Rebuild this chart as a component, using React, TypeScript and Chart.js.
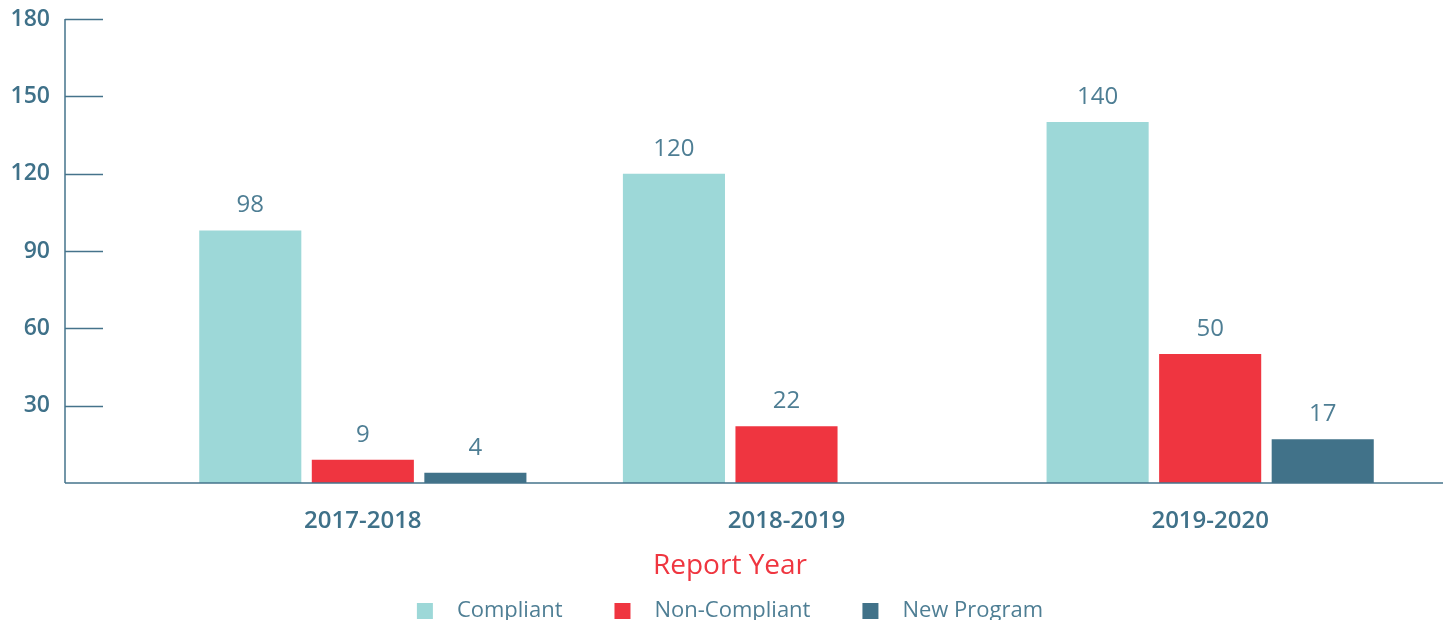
import React, { useEffect, useRef } from "react";
import { Chart, registerables } from "chart.js";

Chart.register(...registerables);

const categories = ["2017-2018", "2018-2019", "2019-2020"];
const seriesNames = ["Compliant", "Non-Compliant", "New Program"];
const compliant = [98, 120, 140];
const nonCompliant = [9, 22, 50];
const newProgram: (number | null)[] = [4, null, 17];
const seriesColors = ["#9dd8d8", "#ef3540", "#417289"];
const yTickValues = [0, 30, 60, 90, 120, 150, 180];
const xAxisTitle = "Report Year";

const AXIS_COLOR = "#45738b";
const TEXT_COLOR = "#3f7189";
const LABEL_COLOR = "#4e7e94";
const FONT = "'Open Sans', sans-serif";

const decorPlugin = {
  id: "decor",
  afterDatasetsDraw(chart: any) {
    const ctx = chart.ctx;
    const y = chart.scales.y;
    const axisX = 65;
    ctx.save();
    ctx.strokeStyle = AXIS_COLOR;
    ctx.lineWidth = 1.5;
    // y axis line
    ctx.beginPath();
    ctx.moveTo(axisX, y.getPixelForValue(180));
    ctx.lineTo(axisX, y.getPixelForValue(0));
    ctx.stroke();
    // x axis line
    ctx.beginPath();
    ctx.moveTo(axisX, y.getPixelForValue(0));
    ctx.lineTo(chart.width, y.getPixelForValue(0));
    ctx.stroke();
    // tick marks to the right of the axis
    yTickValues.forEach((v) => {
      if (v === 0) return;
      const py = Math.round(y.getPixelForValue(v)) + 0.5;
      ctx.beginPath();
      ctx.moveTo(axisX, py);
      ctx.lineTo(axisX + 38, py);
      ctx.stroke();
    });
    // value labels
    ctx.fillStyle = LABEL_COLOR;
    ctx.font = `400 24px ${FONT}`;
    ctx.textAlign = "center";
    ctx.textBaseline = "middle";
    chart.data.datasets.forEach((ds: any, i: number) => {
      const meta = chart.getDatasetMeta(i);
      meta.data.forEach((el: any, j: number) => {
        const v = ds.data[j];
        if (v === null || v === undefined) return;
        ctx.fillText(String(v), el.x, el.y - 25);
      });
    });
    // axis title
    ctx.fillStyle = "#ef3640";
    ctx.font = `400 28px ${FONT}`;
    ctx.fillText(xAxisTitle, 730, 566);
    // legend
    ctx.font = `400 22px ${FONT}`;
    const box = 16;
    const boxGap = 24;
    const itemGap = 52;
    const widths = chart.data.datasets.map((ds: any) => ctx.measureText(ds.label).width);
    const total =
      widths.reduce((a: number, b: number) => a + b, 0) +
      chart.data.datasets.length * (box + boxGap) +
      (chart.data.datasets.length - 1) * itemGap;
    let x = 730 - total / 2;
    const ly = 611;
    ctx.textAlign = "left";
    chart.data.datasets.forEach((ds: any, i: number) => {
      ctx.fillStyle = ds.backgroundColor;
      ctx.fillRect(x, ly - box / 2, box, box);
      x += box + boxGap;
      ctx.fillStyle = LABEL_COLOR;
      ctx.fillText(ds.label, x, ly);
      x += widths[i] + itemGap;
    });
    ctx.restore();
  },
};

export default function App() {
  const ref = useRef<HTMLCanvasElement | null>(null);
  useEffect(() => {
    document.body.style.margin = "0";
    document.body.style.overflow = "hidden";
    const canvas = ref.current;
    if (!canvas) return;
    const chart = new Chart(canvas, {
      type: "bar",
      data: {
        labels: categories,
        datasets: [
          { label: seriesNames[0], data: compliant, backgroundColor: seriesColors[0] },
          { label: seriesNames[1], data: nonCompliant, backgroundColor: seriesColors[1] },
          { label: seriesNames[2], data: newProgram, backgroundColor: seriesColors[2] },
        ],
      },
      options: {
        animation: false,
        responsive: false,
        maintainAspectRatio: false,
        devicePixelRatio: 1,
        layout: { padding: { top: 19, right: 38, left: 0, bottom: 0 } },
        datasets: {
          bar: { categoryPercentage: 0.797, barPercentage: 0.907 },
        },
        plugins: {
          legend: { display: false },
          tooltip: { enabled: false },
        },
        scales: {
          x: {
            grid: { display: false },
            border: { display: false },
            ticks: {
              color: TEXT_COLOR,
              font: { family: FONT, size: 24, weight: "600" },
              padding: 16,
            },
            afterFit: (scale: any) => {
              scale.height = 137;
              scale.paddingLeft = 0;
              scale.paddingRight = 0;
            },
          },
          y: {
            min: 0,
            max: 180,
            grid: { display: false },
            border: { display: false },
            afterBuildTicks: (scale: any) => {
              scale.ticks = yTickValues.map((v) => ({ value: v }));
            },
            ticks: {
              color: TEXT_COLOR,
              font: { family: FONT, size: 23, weight: "600" },
              padding: 93,
              callback: (v: any) => (v === 0 ? "" : String(v)),
            },
            afterFit: (scale: any) => {
              scale.width = 151;
              scale.paddingTop = 0;
              scale.paddingBottom = 0;
            },
          },
        },
      },
      plugins: [decorPlugin],
    });
    return () => chart.destroy();
  }, []);
  return (
    <div style={{ width: 1460, height: 620 }}>
      <canvas ref={ref} width={1460} height={620} style={{ display: "block", width: 1460, height: 620 }} />
    </div>
  );
}
